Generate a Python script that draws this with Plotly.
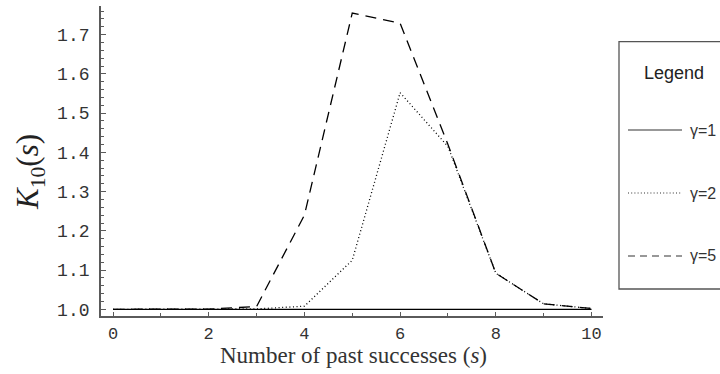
import plotly.graph_objects as go

# ---- data ----
s_values = [0, 1, 2, 3, 4, 5, 6, 7, 8, 9, 10]
gamma1 = [1.0, 1.0, 1.0, 1.0, 1.0, 1.0, 1.0, 1.0, 1.0, 1.0, 1.0]
gamma2 = [1.0, 1.0, 1.0, 1.001, 1.008, 1.125, 1.552, 1.415, 1.092, 1.014, 1.002]
gamma5 = [1.0, 1.0, 1.0005, 1.007, 1.24, 1.755, 1.729, 1.42, 1.092, 1.014, 1.002]
series_names = ["γ=1", "γ=2", "γ=5"]
x_tick_vals = [0, 2, 4, 6, 8, 10]
y_tick_vals = [1.0, 1.1, 1.2, 1.3, 1.4, 1.5, 1.6, 1.7]
y_tick_text = ["1.0", "1.1", "1.2", "1.3", "1.4", "1.5", "1.6", "1.7"]

W, H = 720, 374
L, R, T, B = 101, 117, 6, 58
PW, PH = W - L - R, H - T - B


def px(xp):
    return (xp - L) / PW


def py(yp):
    return (H - B - yp) / PH


dashes = ["solid", "1px,2.6px", "11px,7px"]
legend_dashes = ["solid", "1px,2.2px", "7px,5px"]
series = [gamma1, gamma2, gamma5]

fig = go.Figure()
for name, ys, d in zip(series_names, series, dashes):
    fig.add_trace(go.Scatter(x=s_values, y=ys, mode="lines", name=name,
                             line=dict(color="black", width=1.3, dash=d),
                             showlegend=False))

axis_col = "#5a5a5a"
fig.update_layout(
    width=W, height=H,
    margin=dict(l=L, r=R, t=T, b=B, autoexpand=False),
    plot_bgcolor="white", paper_bgcolor="white",
    xaxis=dict(range=[-0.251, 10.24], showgrid=False, zeroline=False,
               showline=True, linecolor=axis_col, linewidth=1.8,
               tickmode="array", tickvals=x_tick_vals,
               ticks="inside", ticklen=4, tickwidth=1, tickcolor=axis_col,
               tickfont=dict(family="Liberation Mono", size=17, color="#333"),
               minor=dict(dtick=1, ticks="inside", ticklen=3, tickcolor=axis_col, showgrid=False),
               ticklabelstandoff=1),
    yaxis=dict(range=[0.983, 1.773], showgrid=False, zeroline=False,
               showline=True, linecolor=axis_col, linewidth=1.8,
               tickmode="array", tickvals=y_tick_vals, ticktext=y_tick_text,
               ticks="inside", ticklen=5, tickwidth=1, tickcolor=axis_col,
               tickfont=dict(family="Liberation Mono", size=18, color="#333"),
               minor=dict(dtick=0.02, tick0=1.0, ticks="inside", ticklen=3, tickcolor=axis_col, showgrid=False),
               ticklabelstandoff=6),
)

# axis titles
fig.add_annotation(text="Number of past successes (<i>s</i>)", xref="paper", yref="paper",
                   x=px(353), y=py(356), showarrow=False,
                   font=dict(family="Liberation Serif", size=23, color="#333"),
                   xanchor="center", yanchor="middle")
fig.add_annotation(text="<i>K</i><sub>10</sub>(<i>s</i>)", xref="paper", yref="paper",
                   x=px(30), y=py(172), showarrow=False, textangle=-90,
                   font=dict(family="Liberation Serif", size=31, color="#222"),
                   xanchor="center", yanchor="middle")

# legend box (manual)
fig.add_shape(type="rect", xref="paper", yref="paper",
              x0=px(619), x1=px(740), y0=py(289), y1=py(41.7),
              line=dict(color="#555", width=1.3), fillcolor="rgba(0,0,0,0)")
fig.add_annotation(text="Legend", xref="paper", yref="paper",
                   x=px(674), y=py(73), showarrow=False,
                   font=dict(family="Liberation Sans", size=18, color="#222"),
                   xanchor="center", yanchor="middle")
legend_y = [130, 193, 256]
for name, d, yy in zip(series_names, legend_dashes, legend_y):
    fig.add_shape(type="line", xref="paper", yref="paper",
                  x0=px(628), x1=px(682), y0=py(yy), y1=py(yy),
                  line=dict(color="#333", width=1.2, dash=d))
    fig.add_annotation(text=name, xref="paper", yref="paper",
                       x=px(688), y=py(yy), showarrow=False,
                       font=dict(family="Liberation Sans", size=16, color="#333"),
                       xanchor="left", yanchor="middle")

fig.write_html("out.html")
